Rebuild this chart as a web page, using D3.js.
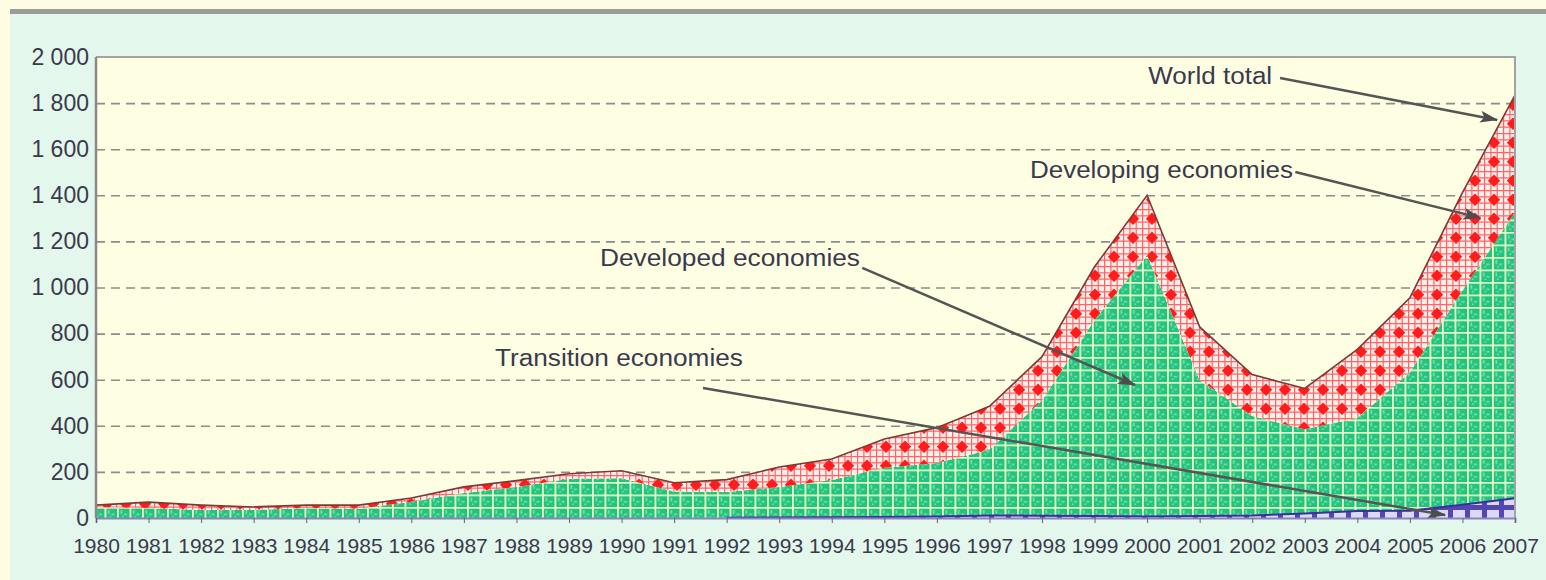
<!doctype html>
<html lang="en">
<head>
<meta charset="UTF-8">
<title>FDI inflows by group of economies, 1980-2007</title>
<script src="https://cdn.jsdelivr.net/npm/d3@7"></script>
<style>
  html, body { margin: 0; padding: 0; background: #fefde3; }
  svg { display: block; font-family: "Liberation Sans", Arial, sans-serif; }
</style>
</head>
<body>
<div id="chart"></div>

<script>
// values (billions of dollars)
var years = d3.range(1980, 2008);
var transition = [0,0,0,0,0,0,0,0,0,0,0,0,1.4,2,3,4.5,6,11,10,9,7,9,11,20,30,31,57,86];
var developed  = [47,43,35,35,43,40,70,108,135,170,172,115,111,132,162,213,233,285,500,850,1133,590,432,365,404,600,930,1240];
var developing = [9,26,21,13,13,16,17,27,27,22,33,38,54,87,91,125,153,189,190,231,260,230,179,177,298,324,425,509];
var yTicks = [0,200,400,600,800,1000,1200,1400,1600,1800,2000];

// annotation labels: text anchor and arrow, in (year, value)
var notes = [
  {text: "World total",          tx: 2000.02, ty: 1883, len: 124, from: [2002.53, 1909], to: [2006.66, 1727]},
  {text: "Developing economies", tx: 1997.77, ty: 1475, len: 263, from: [2002.82, 1501], to: [2006.34, 1302]},
  {text: "Developed economies",  tx: 1989.59, ty: 1093, len: 260, from: [1994.58, 1085], to: [1999.77, 577]},
  {text: "Transition economies", tx: 1987.59, ty: 659,  len: 248, from: [1991.55, 564],  to: [2005.67, 13]}
];

var W = 1546, H = 580;
var m = {left: 96, right: 31, top: 57, bottom: 62};
var w = W - m.left - m.right, h = H - m.top - m.bottom;

var svg = d3.select('#chart').append('svg').attr('width', W).attr('height', H);

// page frame: yellow strip, gray rule, mint panel
svg.append('rect').attr('width', W).attr('height', H).attr('fill', '#fefde3');
svg.append('rect').attr('x', 10).attr('y', 14).attr('width', W - 10).attr('height', H - 14).attr('fill', '#e3f7ec');
svg.append('rect').attr('x', 10).attr('y', 9).attr('width', W - 10).attr('height', 5).attr('fill', '#9a9e9a');

var defs = svg.append('defs');

// green: cells with pale grid and speckles
var pg = defs.append('pattern').attr('id', 'pGreen').attr('patternUnits', 'userSpaceOnUse')
  .attr('x', m.left).attr('y', 0).attr('width', 12.5).attr('height', 12.5);
pg.append('rect').attr('width', 12.5).attr('height', 12.5).attr('fill', '#20c47d');
pg.append('rect').attr('x', 3.5).attr('y', 3).attr('width', 1.6).attr('height', 4).attr('fill', '#86dfb2');
pg.append('rect').attr('x', 7).attr('y', 6.5).attr('width', 3).attr('height', 1.6).attr('fill', '#86dfb2');
pg.append('rect').attr('x', 5).attr('y', 9).attr('width', 1.6).attr('height', 1.6).attr('fill', '#86dfb2');
pg.append('path').attr('d', 'M0,0.9H12.5M0.9,0V12.5').attr('stroke', '#eaf8c8').attr('stroke-width', 1.8);

// red: pale grid with red dots
var pr = defs.append('pattern').attr('id', 'pRed').attr('patternUnits', 'userSpaceOnUse')
  .attr('x', m.left).attr('y', 0).attr('width', 19).attr('height', 19);
pr.append('rect').attr('width', 19).attr('height', 19).attr('fill', '#fff0ec');
pr.append('path').attr('d', 'M0,0.6H19M0,6.9H19M0,13.2H19M0.6,0V19M6.9,0V19M13.2,0V19')
  .attr('stroke', '#ff6464').attr('stroke-width', 1.2);
pr.append('path').attr('d', 'M10,3.6L16.2,9.8L10,16L3.8,9.8Z').attr('fill', '#ff1c1c');

// purple: lavender squares on dark violet
var pp = defs.append('pattern').attr('id', 'pPurple').attr('patternUnits', 'userSpaceOnUse')
  .attr('x', m.left).attr('y', m.top + h).attr('width', 17).attr('height', 17);
pp.append('rect').attr('width', 17).attr('height', 17).attr('fill', '#5346b5');
pp.append('rect').attr('x', 3).attr('y', 3).attr('width', 12).attr('height', 12).attr('fill', '#dcd9f4');

defs.append('marker').attr('id', 'arrow').attr('markerUnits', 'userSpaceOnUse')
  .attr('viewBox', '0 0 18 12').attr('refX', 17).attr('refY', 6)
  .attr('markerWidth', 18).attr('markerHeight', 12).attr('orient', 'auto')
  .append('path').attr('d', 'M0,0L18,6L0,12L4,6Z').attr('fill', '#4d4d4d');

var g = svg.append('g').attr('transform', 'translate(' + m.left + ',' + m.top + ')');

var x = d3.scaleLinear().domain([1980, 2007]).range([0, w]);
var y = d3.scaleLinear().domain([0, 2000]).range([h, 0]);

g.append('rect').attr('width', w).attr('height', h).attr('fill', '#fefee3');

// dashed gridlines
g.append('g')
  .call(d3.axisLeft(y).tickValues(yTicks.slice(1, -1)).tickSize(-w).tickFormat(''))
  .call(function(s) {
    s.select('.domain').remove();
    s.selectAll('line').attr('stroke', '#8c8c8c').attr('stroke-width', 1.6).attr('stroke-dasharray', '9,6');
  });

// stacked areas
var rows = years.map(function(yr, i) {
  return {year: yr, transition: transition[i], developed: developed[i], developing: developing[i]};
});
var keys = ['transition', 'developed', 'developing'];
var series = d3.stack().keys(keys)(rows);
var fills = {transition: 'url(#pPurple)', developed: 'url(#pGreen)', developing: 'url(#pRed)'};

var area = d3.area()
  .x(function(d) { return x(d.data.year); })
  .y0(function(d) { return y(d[0]); })
  .y1(function(d) { return y(d[1]); });

g.selectAll('path.area').data(series).enter().append('path')
  .attr('class', 'area')
  .attr('d', area)
  .attr('fill', function(s) { return fills[s.key]; });

// outline on top of the world total
var topLine = d3.line()
  .x(function(d) { return x(d.data.year); })
  .y(function(d) { return y(d[1]); });
g.append('path').datum(series[2]).attr('d', topLine)
  .attr('fill', 'none').attr('stroke', '#7a3a3a').attr('stroke-width', 1.6);

// outline of the transition band where it exists
g.append('path').datum(series[0])
  .attr('d', topLine.defined(function(d) { return d[1] > 0; }))
  .attr('fill', 'none').attr('stroke', '#3b2f9e').attr('stroke-width', 2);

// plot frame
g.append('path').attr('d', 'M0,0H' + w + 'V' + h)
  .attr('fill', 'none').attr('stroke', '#a3a3a3').attr('stroke-width', 2);
g.append('line').attr('x1', 0).attr('x2', 0).attr('y1', 0).attr('y2', h)
  .attr('stroke', '#8a8a8a').attr('stroke-width', 2.5);

// y labels
var fmt = d3.formatLocale({decimal: '.', thousands: ' ', grouping: [3], currency: ['', '']}).format(',');
g.append('g')
  .call(d3.axisLeft(y).tickValues(yTicks).tickSize(0).tickPadding(7).tickFormat(fmt))
  .call(function(s) {
    s.select('.domain').remove();
    s.selectAll('text').attr('font-size', 23).attr('fill', '#3a3a4a')
      .attr('font-family', '"Liberation Sans", Arial, sans-serif');
  });

// x axis
g.append('g').attr('transform', 'translate(0,' + h + ')')
  .call(d3.axisBottom(x).tickValues(years).tickFormat(d3.format('d')).tickSize(5).tickPadding(15))
  .call(function(s) {
    s.select('.domain').attr('stroke', '#8985b9').attr('stroke-width', 2);
    s.selectAll('line').attr('stroke', '#666');
    s.selectAll('text').attr('font-size', 21).attr('fill', '#3a3a4a')
      .attr('font-family', '"Liberation Sans", Arial, sans-serif');
  });

// annotations
var ann = g.append('g');
ann.selectAll('line').data(notes).enter().append('line')
  .attr('x1', function(d) { return x(d.from[0]); })
  .attr('y1', function(d) { return y(d.from[1]); })
  .attr('x2', function(d) { return x(d.to[0]); })
  .attr('y2', function(d) { return y(d.to[1]); })
  .attr('stroke', '#555').attr('stroke-width', 2.5)
  .attr('marker-end', 'url(#arrow)');
ann.selectAll('text').data(notes).enter().append('text')
  .attr('x', function(d) { return x(d.tx); })
  .attr('y', function(d) { return y(d.ty); })
  .attr('textLength', function(d) { return d.len; })
  .attr('lengthAdjust', 'spacingAndGlyphs')
  .attr('font-size', 23).attr('fill', '#3a3a4e')
  .text(function(d) { return d.text; });
</script>
</body>
</html>
